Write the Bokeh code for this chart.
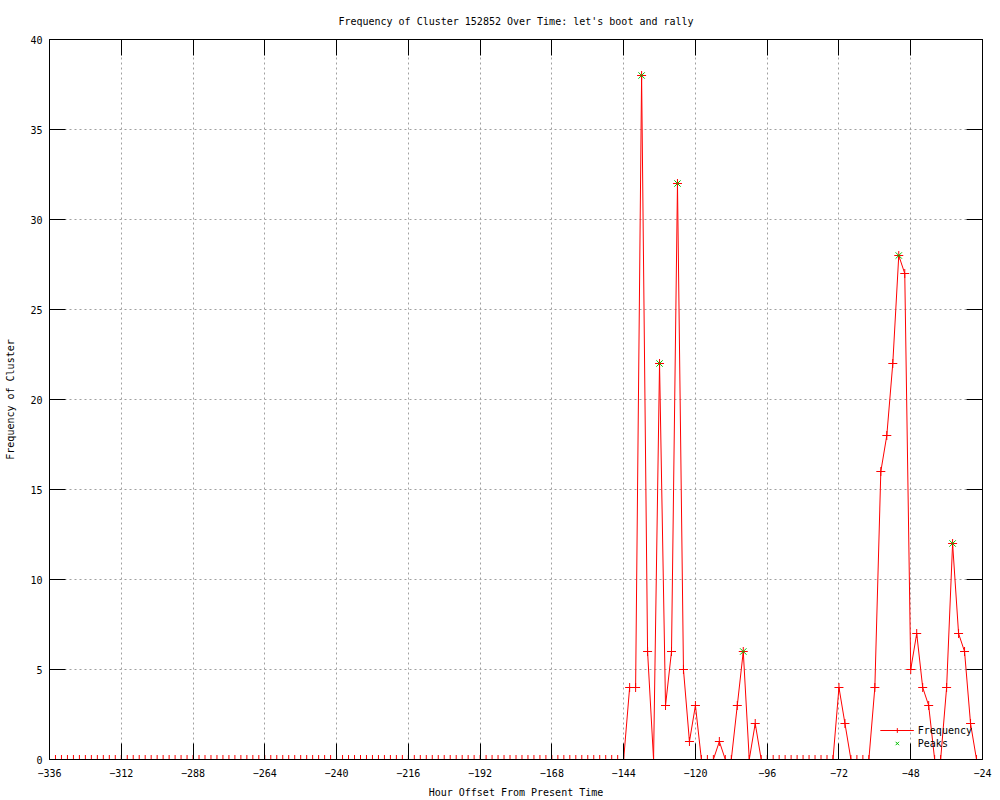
from bokeh.plotting import figure
from bokeh.models import Range1d, FixedTicker, LinearAxis, Legend, LegendItem
from bokeh.embed import file_html
from bokeh.resources import INLINE

# ---- data (hours relative to present, sampled every 2 hours) ----
hours = list(range(-336, -24, 2))  # -336 ... -26

freq = [
    0, 0, 0, 0, 0, 0, 0, 0, 0, 0, 0, 0,        # -336 .. -314
    0, 0, 0, 0, 0, 0, 0, 0, 0, 0, 0, 0,        # -312 .. -290
    0, 0, 0, 0, 0, 0, 0, 0, 0, 0, 0, 0,        # -288 .. -266
    0, 0, 0, 0, 0, 0, 0, 0, 0, 0, 0, 0,        # -264 .. -242
    0, 0, 0, 0, 0, 0, 0, 0, 0, 0, 0, 0,        # -240 .. -218
    0, 0, 0, 0, 0, 0, 0, 0, 0, 0, 0, 0,        # -216 .. -194
    0, 0, 0, 0, 0, 0, 0, 0, 0, 0, 0, 0,        # -192 .. -170
    0, 0, 0, 0, 0, 0, 0, 0, 0, 0, 0, 0,        # -168 .. -146
    0, 4, 4, 38, 6, 0, 22, 3, 6, 32, 5, 1,     # -144 .. -122
    3, 0, 0, 0, 1, 0, 0, 3, 6, 0, 2, 0,        # -120 .. -98
    0, 0, 0, 0, 0, 0, 0, 0, 0, 0, 0, 0,        # -96 .. -74
    4, 2, 0, 0, 0, 0, 4, 16, 18, 22, 28, 27,   # -72 .. -50
    5, 7, 4, 3, 0, 0, 4, 12, 7, 6, 2, 0,       # -48 .. -26
]

peak_hours = [-138, -132, -126, -104, -52, -34]
peak_values = [38, 22, 32, 6, 28, 12]

x_tick_values = [-336, -312, -288, -264, -240, -216, -192, -168, -144, -120, -96, -72, -48, -24]
y_tick_values = [0, 5, 10, 15, 20, 25, 30, 35, 40]

title_text = "Frequency of Cluster 152852 Over Time: let's boot and rally"
x_label = "Hour Offset From Present Time"
y_label = "Frequency of Cluster"

FONT = "DejaVu Sans Mono"
RED = "#ff0000"
GREEN = "#00c000"

p = figure(
    width=1000, height=800,
    output_backend="svg", toolbar_location=None,
    x_range=Range1d(-336, -24), y_range=Range1d(0, 40),
    min_border_left=49, min_border_right=18,
    min_border_top=39, min_border_bottom=40,
    title=title_text,
)
p.background_fill_color = "white"
p.border_fill_color = "white"
p.outline_line_color = "black"
p.outline_line_width = 1
p.outline_line_alpha = 1.0

p.title.align = "center"
p.title.text_font = FONT
p.title.text_font_size = "10px"
p.title.text_font_style = "normal"
p.title.text_color = "black"
p.title.standoff = 25

xticker = FixedTicker(ticks=x_tick_values)
yticker = FixedTicker(ticks=y_tick_values)

for ax in (p.xaxis[0], p.yaxis[0]):
    ax.major_tick_in = 16
    ax.major_tick_out = 0
    ax.minor_tick_line_color = None
    ax.axis_line_color = "black"
    ax.major_tick_line_color = "black"
    ax.major_label_text_font = FONT
    ax.major_label_text_font_size = "10px"
    ax.major_label_text_color = "black"
    ax.axis_label_text_font = FONT
    ax.axis_label_text_font_size = "10px"
    ax.axis_label_text_font_style = "normal"
    ax.axis_label_text_color = "black"

p.xaxis[0].ticker = xticker
p.yaxis[0].ticker = yticker
p.xaxis[0].axis_label = x_label
p.yaxis[0].axis_label = y_label
p.xaxis[0].major_label_standoff = 9
p.xaxis[0].axis_label_standoff = 7
p.yaxis[0].major_label_standoff = 7
p.yaxis[0].axis_label_standoff = 11

# mirror ticks on top and right (gnuplot style), without labels
top_axis = LinearAxis(ticker=xticker, major_tick_in=16, major_tick_out=0,
                      minor_tick_line_color=None, major_label_text_font_size="1px",
                      major_label_text_color=None, major_label_standoff=0,
                      axis_line_color="black")
right_axis = LinearAxis(ticker=yticker, major_tick_in=16, major_tick_out=0,
                        minor_tick_line_color=None, major_label_text_font_size="1px",
                        major_label_text_color=None, major_label_standoff=0,
                        axis_line_color="black")
p.add_layout(top_axis, "above")
p.add_layout(right_axis, "right")

for g, t in ((p.xgrid[0], xticker), (p.ygrid[0], yticker)):
    g.ticker = t
    g.grid_line_color = "#a0a0a0"
    g.grid_line_dash = "2 3"
    g.grid_line_width = 1

line_r = p.line(hours, freq, line_color=RED, line_width=1)
pts_r = p.scatter(hours, freq, marker="cross", size=9, line_color=RED,
                  fill_color=None, line_width=1)
peak_r = p.scatter(peak_hours, peak_values, marker="x", size=9, line_color=GREEN,
                   fill_color=None, line_width=1)

legend = Legend(
    items=[
        LegendItem(label="Frequency", renderers=[line_r, pts_r]),
        LegendItem(label="Peaks", renderers=[peak_r]),
    ],
    location="bottom_right",
    background_fill_alpha=0,
    border_line_color=None,
    label_text_font=FONT,
    label_text_font_size="10px",
    label_text_color="black",
    glyph_width=34,
    glyph_height=12,
    label_height=12,
    label_standoff=4,
    spacing=1,
    padding=2,
    margin=10,
)
p.add_layout(legend, "center")

open("out.html", "w").write(file_html(p, INLINE))
